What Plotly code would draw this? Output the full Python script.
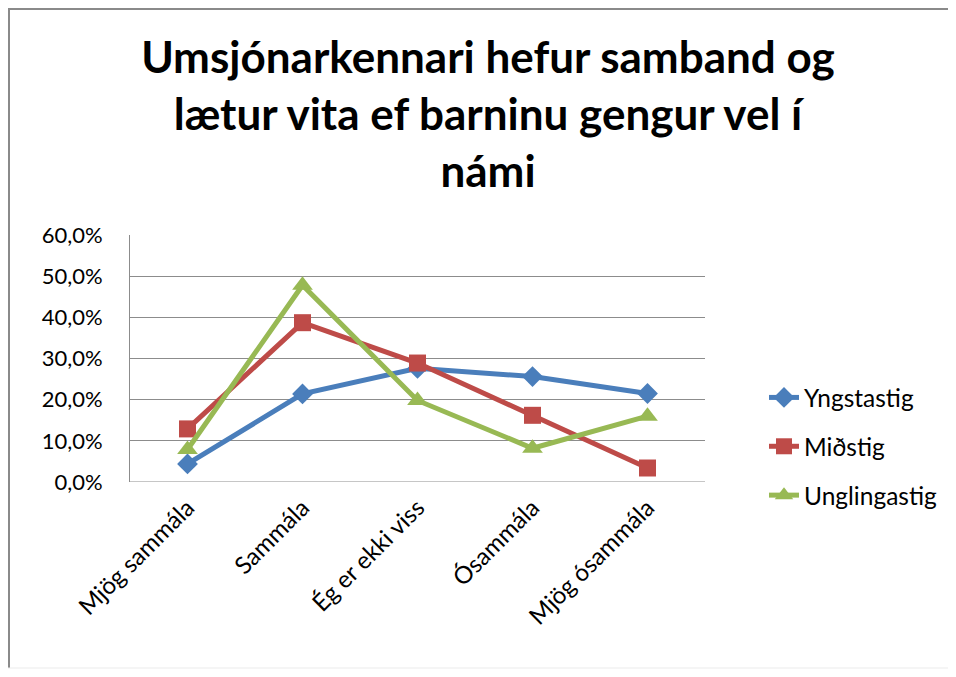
import plotly.graph_objects as go

categories = ["Mjög sammála", "Sammála", "Ég er ekki viss", "Ósammála", "Mjög ósammála"]
yngstastig = [0.044, 0.214, 0.276, 0.256, 0.215]
midstig = [0.129, 0.387, 0.289, 0.162, 0.034]
unglingastig = [0.079, 0.478, 0.198, 0.082, 0.160]

series_names = ["Yngstastig", "Miðstig", "Unglingastig"]
series_values = [yngstastig, midstig, unglingastig]
colors = ["#4A7EBB", "#BE4B48", "#98B954"]
symbols = ["diamond", "square", "triangle-up"]
msizes = [16, 17, 18]

title_text = "Umsjónarkennari hefur samband og<br>lætur vita ef barninu gengur vel í<br>námi"
FONT = "Lato"

fig = go.Figure()
for i, (name, vals) in enumerate(zip(series_names, series_values)):
    fig.add_trace(go.Scatter(
        x=categories, y=vals, name=name, mode="lines+markers",
        line=dict(color=colors[i], width=5),
        marker=dict(symbol=symbols[i], size=msizes[i], color=colors[i]),
        legendgroup=name,
    ))

# page body has an 8px margin, so figure coords = screen coords - 8
W, H = 948, 661
L, R, T, B = 122, 697, 227, 474
pw = R - L
ph = B - T

fig.update_layout(
    width=W, height=H,
    margin=dict(l=L, r=W - R, t=T, b=H - B),
    paper_bgcolor="white", plot_bgcolor="white",
    separators=", ",
    font=dict(family=FONT, color="black"),
    title=dict(text=title_text, x=(488 - 8) / W, xanchor="center", yref="container",
               y=1 - 65 / H, yanchor="top",
               font=dict(family=FONT, size=44, color="black", weight="bold")),
    xaxis=dict(range=[-0.5, 4.5], showgrid=False, showline=False, ticks="",
               tickangle=-45, tickfont=dict(size=24, family=FONT), zeroline=False,
               ticklabelstandoff=6),
    yaxis=dict(range=[0, 0.6], dtick=0.1, tickformat=".1%", showgrid=True,
               gridcolor="#8C8C8C", gridwidth=1, showline=True, linecolor="#8C8C8C",
               linewidth=1, zeroline=False, ticks="", tickfont=dict(size=22, family=FONT),
               ticklabelstandoff=22),
    legend=dict(x=(756 - L) / pw, y=(B - 367) / ph, xanchor="left", yanchor="top",
                font=dict(size=24.5, family=FONT), tracegroupgap=14,
                bgcolor="rgba(0,0,0,0)"),
    showlegend=True,
)
fig.add_hline(y=0, line=dict(color="#8C8C8C", width=1))

def px(xp):
    return (xp - L) / pw
def py(yp):
    return (B - yp) / ph

# outer chart frame
fig.add_shape(type="line", xref="paper", yref="paper", x0=px(0), x1=px(W), y0=py(1), y1=py(1),
              line=dict(color="#8A8A8A", width=2))
fig.add_shape(type="line", xref="paper", yref="paper", x0=px(1), x1=px(1), y0=py(0), y1=py(H - 1),
              line=dict(color="#8A8A8A", width=2))
fig.add_shape(type="line", xref="paper", yref="paper", x0=px(0), x1=px(W), y0=py(H - 1), y1=py(H - 1),
              line=dict(color="#EBEBEB", width=1))

fig.write_html("out.html")
